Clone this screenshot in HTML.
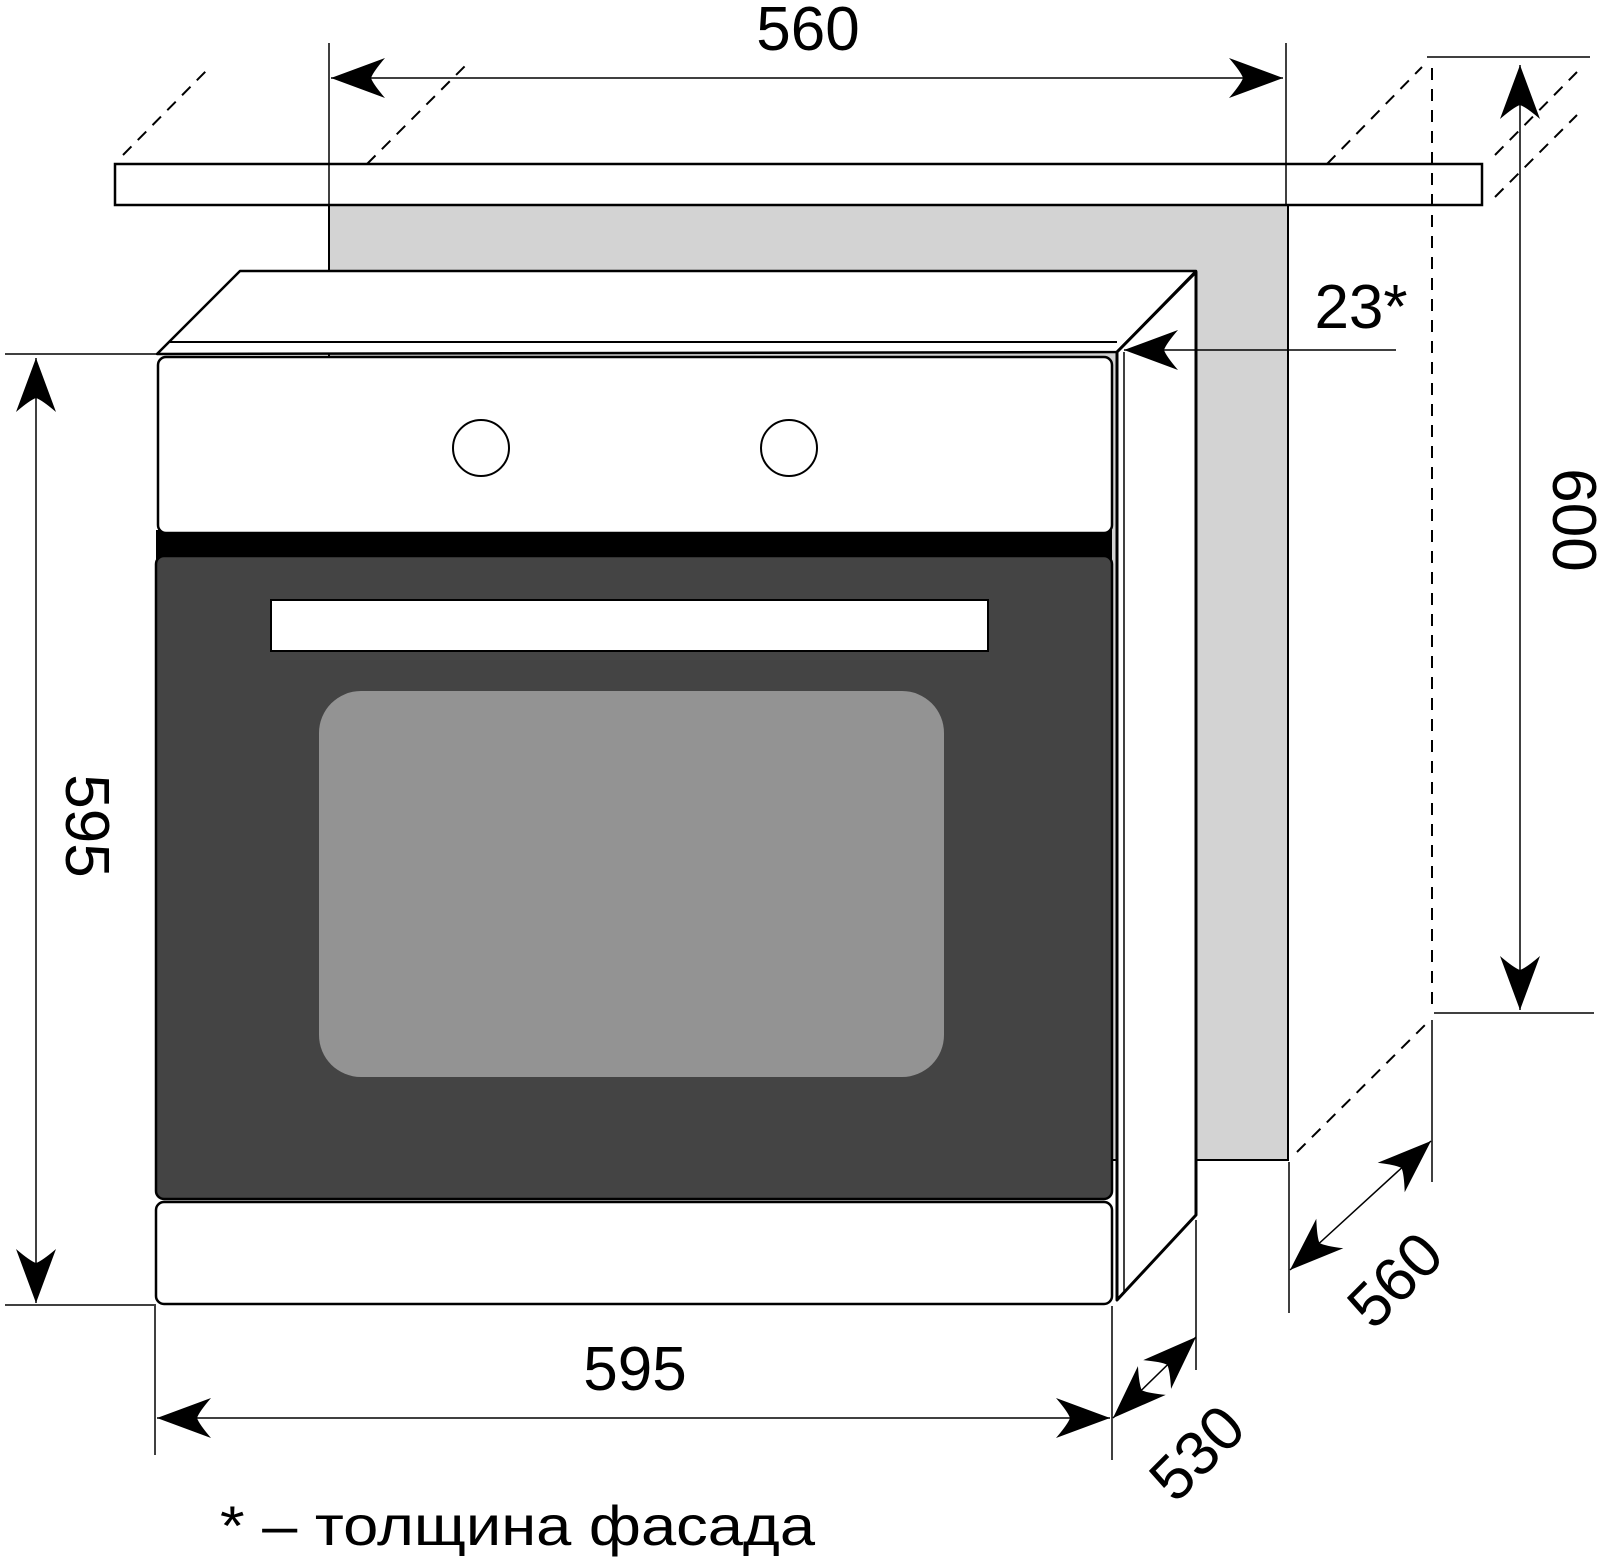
<!DOCTYPE html>
<html><head><meta charset="utf-8"><style>html,body{margin:0;padding:0;background:#fff}svg{display:block}</style></head>
<body>
<svg width="1600" height="1563" viewBox="0 0 1600 1563" xmlns="http://www.w3.org/2000/svg" font-family="Liberation Sans, DejaVu Sans, sans-serif">
<defs>
<path id="ah" d="M0,0 L-54,-20 Q-42,-6 -40,0 Q-42,6 -54,20 Z" fill="#000"/>
</defs>
<rect width="1600" height="1563" fill="#fff"/>
<rect x="329" y="205" width="959" height="955" fill="#d3d3d3" stroke="#000" stroke-width="2"/>
<rect x="115" y="164" width="1367" height="41" fill="#fff" stroke="#000" stroke-width="2.5"/>
<g stroke="#000" stroke-width="1.5" fill="none">
<line x1="329" y1="43" x2="329" y2="206"/>
<line x1="1286" y1="43" x2="1286" y2="206"/>
<line x1="331" y1="78" x2="1283" y2="78"/>
<line x1="1427" y1="57" x2="1590" y2="57"/>
<line x1="1434" y1="1013" x2="1594" y2="1013"/>
<line x1="1520" y1="65" x2="1520" y2="1010"/>
<line x1="5" y1="354" x2="157" y2="354"/>
<line x1="5" y1="1305" x2="156" y2="1305"/>
<line x1="36" y1="358" x2="36" y2="1303"/>
<line x1="155" y1="1306" x2="155" y2="1455"/>
<line x1="1112" y1="1306" x2="1112" y2="1460"/>
<line x1="157" y1="1418" x2="1110" y2="1418"/>
<line x1="1196" y1="1220" x2="1196" y2="1370"/>
<line x1="1113" y1="1418" x2="1196" y2="1337"/>
<line x1="1289" y1="1162" x2="1289" y2="1313"/>
<line x1="1432" y1="1020" x2="1432" y2="1182"/>
<line x1="1290" y1="1270" x2="1431" y2="1141"/>
</g>
<g stroke="#000" stroke-width="2" fill="none" stroke-dasharray="12,9">
<line x1="123" y1="155" x2="207" y2="70"/>
<line x1="367" y1="164" x2="465" y2="66"/>
<line x1="1327" y1="164" x2="1422" y2="67"/>
<line x1="1432" y1="68" x2="1432" y2="1010"/>
<line x1="1495" y1="155" x2="1577" y2="72"/>
<line x1="1495" y1="197" x2="1577" y2="115"/>
<line x1="1297" y1="1152" x2="1427" y2="1023"/>
</g>
<polygon points="157,354 240,271 1196,271 1117,352" fill="#fff" stroke="#000" stroke-width="2.5" stroke-linejoin="round"/>
<line x1="170" y1="342" x2="1117" y2="342" stroke="#000" stroke-width="2"/>
<polygon points="1117,352 1196,272 1196,1215 1117,1300" fill="#fff" stroke="#000" stroke-width="3" stroke-linejoin="round"/>
<line x1="1124" y1="352" x2="1124" y2="1293" stroke="#000" stroke-width="1.5"/>
<line x1="1124" y1="350" x2="1396" y2="350" stroke="#000" stroke-width="1.5"/>
<rect x="156" y="530" width="956" height="30" fill="#000"/>
<rect x="158" y="357" width="954" height="176" rx="8" fill="#fff" stroke="#000" stroke-width="2.5"/>
<rect x="156" y="556" width="956" height="643" rx="8" fill="#444" stroke="#000" stroke-width="2.5"/>
<rect x="271" y="600" width="717" height="51" fill="#fff" stroke="#000" stroke-width="2"/>
<rect x="319" y="691" width="625" height="386" rx="42" fill="#939393"/>
<rect x="156" y="1202" width="956" height="102" rx="8" fill="#fff" stroke="#000" stroke-width="2.5"/>
<circle cx="481" cy="448" r="28" fill="#fff" stroke="#000" stroke-width="2"/>
<circle cx="789" cy="448" r="28" fill="#fff" stroke="#000" stroke-width="2"/>
<use href="#ah" transform="translate(331,78) rotate(180)"/>
<use href="#ah" transform="translate(1283,78)"/>
<use href="#ah" transform="translate(1520,65) rotate(-90)"/>
<use href="#ah" transform="translate(1520,1010) rotate(90)"/>
<use href="#ah" transform="translate(36,358) rotate(-90)"/>
<use href="#ah" transform="translate(36,1303) rotate(90)"/>
<use href="#ah" transform="translate(157,1418) rotate(180)"/>
<use href="#ah" transform="translate(1110,1418)"/>
<use href="#ah" transform="translate(1113,1418) rotate(136)"/>
<use href="#ah" transform="translate(1196,1337) rotate(-44)"/>
<use href="#ah" transform="translate(1290,1270) rotate(137.5)"/>
<use href="#ah" transform="translate(1431,1141) rotate(-42.5)"/>
<use href="#ah" transform="translate(1124,350) rotate(180)"/>
<g font-size="62" fill="#000" text-anchor="middle">
<text x="808" y="50">560</text>
<text x="635" y="1390">595</text>
<text x="1361" y="328">23*</text>
<text transform="translate(66,826) rotate(90)">595</text>
<text transform="translate(1553,520) rotate(90)">600</text>
<text transform="translate(1212,1468) rotate(-45)">530</text>
<text transform="translate(1410,1295) rotate(-45)">560</text>
</g>
<text x="220" y="1545" font-size="56" textLength="595" lengthAdjust="spacingAndGlyphs">* – толщина фасада</text>
</svg>
</body></html>
